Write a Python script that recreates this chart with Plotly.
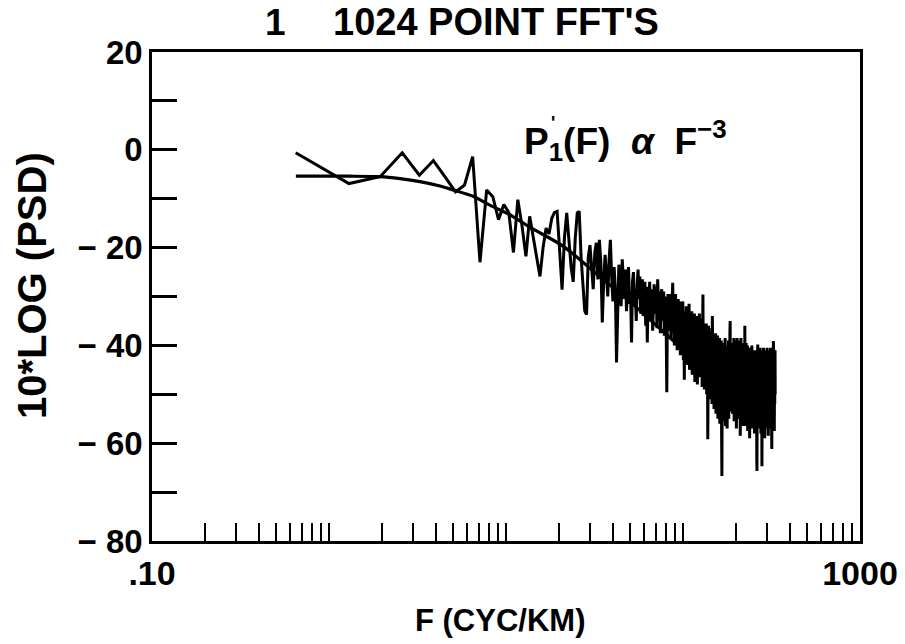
import plotly.graph_objects as go

# ---- data ----
DF = 0.648  # FFT bin spacing (cyc/km)
psd_noisy = [
    -0.6, -6.9, -5.5, -0.6, -5.2, -2.2, -5.6, -8.6, -7.2, -1.4, -23.0, -8.2, -9.6, -14.3, -11.2, -12.8,
    -21.0, -10.2, -15.5, -21.8, -13.6, -18.0, -22.5, -25.9, -20.0, -16.0, -17.2, -14.0, -12.8, -12.6, -20.5, -28.6,
    -18.0, -12.9, -18.5, -24.0, -27.0, -18.0, -12.9, -12.6, -22.0, -27.5, -33.0, -33.7, -22.0, -19.5, -24.0, -28.5,
    -21.0, -19.0, -26.5, -18.4, -23.0, -35.3, -27.0, -21.5, -25.5, -30.0, -22.5, -18.4, -26.0, -31.0, -24.0, -28.5,
    -43.5, -30.0, -23.5, -27.0, -32.0, -22.4, -26.0, -30.5, -24.5, -33.0, -27.5, -24.0, -31.5, -29.0, -39.4, -27.0,
    -25.0, -32.0, -28.5, -35.0, -27.5, -24.5, -30.5, -25.9, -33.5, -28.0, -26.5, -34.0, -30.0, -27.0, -36.0, -29.5,
    -39.4, -28.0, -31.5, -27.0, -35.0, -30.0, -28.5, -37.0, -29.0, -27.5, -33.5, -30.5, -28.0, -36.5, -26.5, -31.0,
    -34.5, -29.0, -37.5, -30.0, -28.5, -35.0, -31.5, -29.0, -38.0, -32.0, -30.0, -36.0, -49.6, -33.0, -29.5, -37.0,
    -31.0, -34.5, -29.5, -38.5, -32.0, -30.0, -27.2, -36.0, -31.5, -40.0, -33.0, -29.5, -37.5, -32.5, -41.0, -34.0,
    -30.5, -38.5, -33.0, -31.0, -42.0, -35.0, -32.0, -39.5, -33.5, -31.0, -43.0, -36.0, -47.0, -33.0, -40.5, -35.0,
    -32.0, -44.0, -36.5, -33.5, -41.0, -35.0, -31.5, -45.0, -37.0, -34.0, -42.5, -36.0, -33.0, -46.0, -38.5, -35.0,
    -43.0, -37.0, -33.5, -47.5, -38.0, -35.5, -44.0, -36.5, -34.0, -48.0, -39.5, -36.0, -45.0, -37.5, -33.5, -46.5,
    -39.0, -36.5, -44.5, -38.0, -34.5, -48.5, -40.0, -29.6, -45.5, -38.5, -35.5, -49.0, -41.0, -37.0, -46.0, -39.0,
    -35.5, -50.0, -42.0, -38.0, -59.2, -40.0, -36.0, -47.5, -41.5, -37.5, -51.0, -43.0, -38.5, -48.0, -40.0, -36.5,
    -52.0, -34.0, -39.5, -49.0, -42.5, -38.0, -53.0, -44.0, -39.0, -50.0, -41.5, -37.5, -54.0, -45.0, -40.0, -51.5,
    -42.5, -38.0, -55.0, -46.0, -40.5, -50.5, -43.0, -38.5, -56.0, -45.5, -41.0, -52.0, -44.0, -39.0, -58.0, -66.7,
    -47.0, -40.5, -52.5, -44.5, -39.5, -55.5, -46.5, -41.0, -51.0, -43.5, -38.5, -56.5, -47.5, -42.0, -53.0, -45.0,
    -40.0, -57.0, -48.0, -42.5, -52.0, -44.0, -39.0, -55.0, -46.5, -41.5, -50.5, -37.5, -35.0, -53.5, -47.0, -42.0,
    -52.0, -44.0, -39.5, -48.5, -42.0, -54.0, -45.5, -40.0, -50.0, -43.5, -38.5, -55.5, -46.0, -41.0, -49.5, -43.0,
    -39.0, -53.0, -45.5, -40.5, -57.0, -47.5, -42.0, -38.5, -51.5, -44.0, -40.0, -55.0, -46.5, -41.5, -50.0, -43.5,
    -39.0, -53.5, -45.0, -40.5, -58.5, -48.0, -42.5, -38.5, -52.0, -44.5, -40.0, -54.5, -46.0, -41.5, -50.5, -43.0,
    -39.5, -56.5, -47.0, -42.0, -51.5, -44.5, -40.0, -53.0, -36.0, -56.5, -45.5, -41.0, -52.0, -44.0, -39.5, -55.0,
    -47.0, -41.5, -51.0, -44.5, -40.0, -57.5, -48.0, -42.5, -52.5, -45.0, -40.5, -54.0, -47.5, -42.0, -59.0, -49.0,
    -43.0, -52.0, -45.5, -40.5, -55.5, -48.0, -42.5, -51.0, -44.5, -40.0, -57.0, -49.5, -43.5, -53.0, -46.5, -41.0,
    -41.5, -52.5, -46.0, -55.0, -43.0, -49.0, -58.0, -44.0, -51.0, -41.0, -54.5, -47.0, -43.5, -56.0, -48.5, -42.0,
    -53.0, -45.5, -63.5, -65.7, -47.0, -41.5, -52.0, -39.8, -55.5, -46.0, -42.5, -54.0, -48.0, -41.0, -57.0, -45.0,
    -51.5, -42.0, -55.0, -47.5, -40.5, -53.5, -46.0, -43.0, -58.0, -49.0, -41.5, -54.5, -45.5, -52.0, -64.7, -44.0,
    -50.5, -41.0, -56.0, -47.0, -42.5, -53.0, -45.5, -40.5, -57.5, -48.5, -43.0, -54.0, -46.5, -41.5, -59.0, -49.5,
    -44.0, -55.0, -47.0, -41.0, -52.5, -45.0, -42.5, -57.0, -49.0, -43.5, -54.0, -46.5, -40.5, -56.0, -48.0, -42.0,
    -53.5, -45.0, -41.5, -58.5, -49.5, -43.0, -55.0, -47.0, -41.0, -52.0, -45.5, -42.5, -57.0, -48.0, -43.5, -54.5,
    -46.0, -40.5, -56.5, -49.0, -43.0, -53.0, -45.5, -41.5, -58.0, -61.2, -47.5, -42.0, -55.0, -46.5, -41.0, -53.5,
    -45.0, -42.5, -56.0, -39.1, -48.0, -41.5, -54.5, -46.5, -43.0, -57.5, -49.0, -42.5, -52.0, -45.5, -41.0, -50.0,
]
freq_noisy = [DF * (i + 1) for i in range(len(psd_noisy))]

fit_freq = [0.65, 1.0, 1.31, 1.94, 2.52, 3.26, 4.24, 5.02, 6.51, 8.1, 10.9, 13.6, 21.0,
            34.0, 50.0, 67.7, 117, 162, 240, 331]
fit_psd = [-5.4, -5.4, -5.4, -5.5, -5.9, -6.5, -7.4, -8.2, -9.5, -11.3, -13.6, -15.8, -19.7,
           -26.0, -31.0, -35.3, -42.9, -46.5, -50.5, -54.0]

x_tickvals = [0.1, 0.2, 0.3, 0.4, 0.5, 0.6, 0.7, 0.8, 0.9,
              1, 2, 3, 4, 5, 6, 7, 8, 9,
              10, 20, 30, 40, 50, 60, 70, 80, 90,
              100, 200, 300, 400, 500, 600, 700, 800, 900, 1000]
x_ticktext = [".10"] + [" "] * 35 + ["1000"]
y_tickvals = [-80, -70, -60, -50, -40, -30, -20, -10, 0, 10, 20]
y_ticktext = ["\u2212 80", " ", "\u2212 60", " ", "\u2212 40", " ", "\u2212 20", " ", "0", " ", "20"]

FONT = "Liberation Sans, Arial, Helvetica, sans-serif"

fig = go.Figure()
fig.add_trace(go.Scatter(x=freq_noisy, y=psd_noisy, mode="lines",
                         line=dict(color="black", width=3), hoverinfo="skip"))
fig.add_trace(go.Scatter(x=fit_freq, y=fit_psd, mode="lines",
                         line=dict(color="black", width=3.2, shape="spline", smoothing=0.8),
                         hoverinfo="skip"))

fig.update_layout(
    width=905, height=644,
    margin=dict(l=152, r=45, t=52, b=103),
    paper_bgcolor="white", plot_bgcolor="white",
    showlegend=False,
    font=dict(family=FONT, color="black", size=30, weight="bold"),
)
fig.update_xaxes(type="log", range=[-1, 3], tickvals=x_tickvals, ticktext=x_ticktext,
                 ticks="inside", ticklen=18, tickwidth=2, tickcolor="black", tickangle=0,
                 automargin=False,
                 showline=True, linecolor="black", linewidth=2.5, mirror=True,
                 showgrid=False, zeroline=False,
                 tickfont=dict(family=FONT, size=34, color="black", weight="bold"))
fig.update_yaxes(range=[-80, 20], tickvals=y_tickvals, ticktext=y_ticktext,
                 ticks="inside", ticklen=25, tickwidth=2.5, tickcolor="black",
                 automargin=False,
                 showline=True, linecolor="black", linewidth=2.5, mirror=True,
                 showgrid=False, zeroline=False,
                 tickfont=dict(family=FONT, size=33, color="black", weight="bold"))

ann_font = dict(family=FONT, color="black", weight="bold")
fig.add_annotation(text="1", xref="paper", yref="paper",
                   x=0.175, y=1.061, showarrow=False, xanchor="center", yanchor="middle",
                   font=dict(size=37, **ann_font))
fig.add_annotation(text="1024 POINT FFT'S", xref="paper", yref="paper",
                   x=0.486, y=1.061, showarrow=False, xanchor="center", yanchor="middle",
                   font=dict(size=38, **ann_font))
fig.add_annotation(text="F (CYC/KM)", xref="paper", yref="paper",
                   x=0.4915, y=-0.1616, showarrow=False, xanchor="center", yanchor="middle",
                   font=dict(size=31, **ann_font))
fig.add_annotation(text="10*LOG (PSD)", xref="paper", yref="paper",
                   x=-0.1695, y=0.5235, showarrow=False, xanchor="center", yanchor="middle",
                   textangle=-90, font=dict(size=40, **ann_font))
fig.add_annotation(text="P<sub>1</sub>(F)\u00a0\u00a0<i>\u03b1</i>\u00a0\u00a0F<sup>\u22123</sup>",
                   xref="paper", yref="paper",
                   x=0.669, y=0.82, showarrow=False, xanchor="center", yanchor="middle",
                   font=dict(size=37, **ann_font))
fig.add_annotation(text="'", xref="paper", yref="paper",
                   x=0.566, y=0.855, showarrow=False, xanchor="center", yanchor="middle",
                   font=dict(size=18, **ann_font))

fig.write_html("out.html")
